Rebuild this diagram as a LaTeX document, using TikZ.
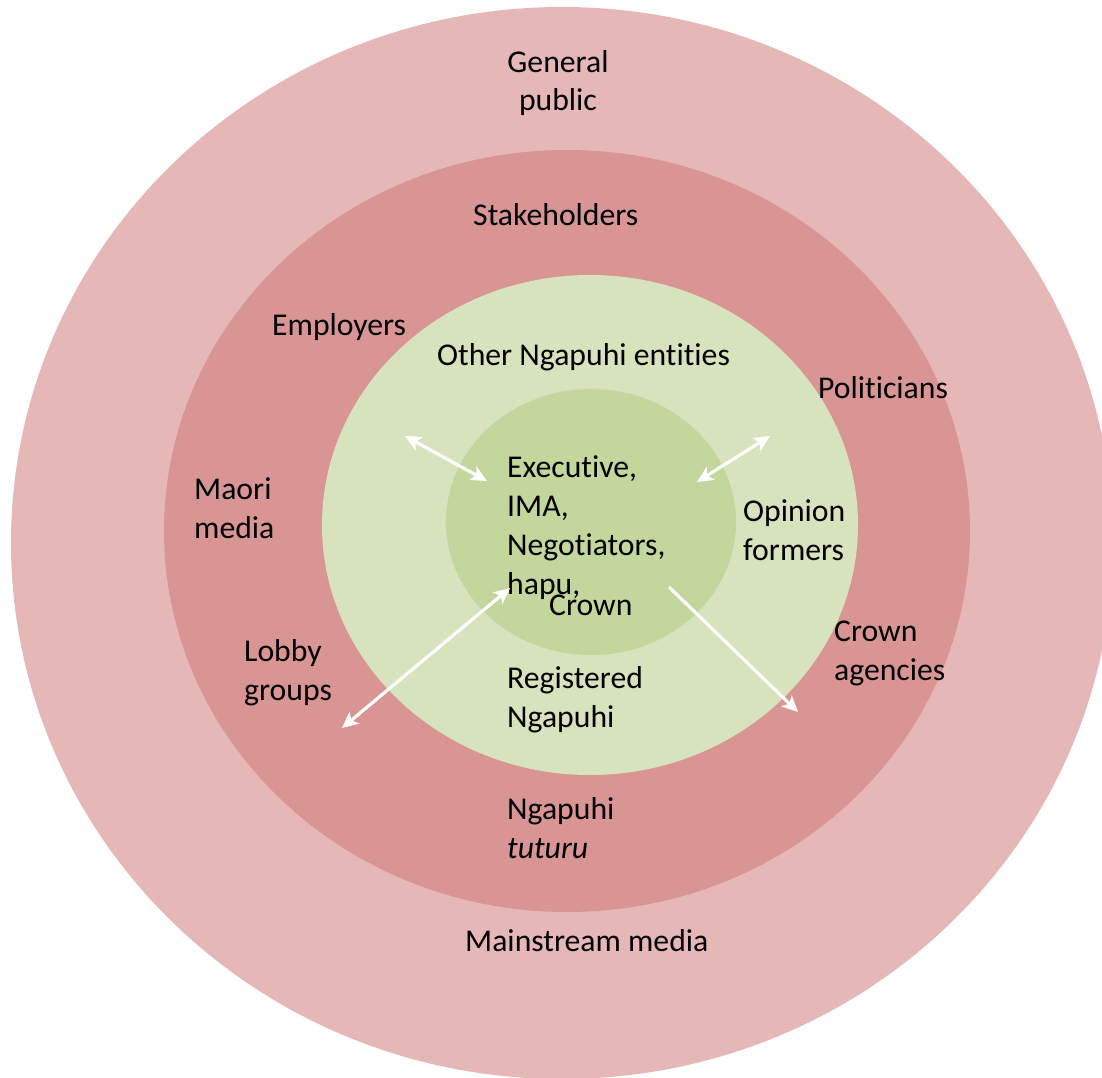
\documentclass[tikz,border=0pt]{standalone}
\usepackage{fontspec}
\setmainfont{Carlito}[Ligatures=NoCommon]
\usetikzlibrary{arrows.meta}
\definecolor{outerpink}{HTML}{E5B7B7}
\definecolor{midpink}{HTML}{D99594}
\definecolor{lightgreen}{HTML}{D7E3BC}
\definecolor{midgreen}{HTML}{C3D69B}
\tikzset{
  lbl/.style={anchor=base west, inner sep=0pt, align=left, font=\fontsize{31.7bp}{39bp}\selectfont},
  clbl/.style={anchor=base, inner sep=0pt, align=center, font=\fontsize{31.7bp}{38bp}\selectfont},
  tip/.tip={Stealth[length=16bp,width=15bp,inset=4bp]},
  conn/.style={draw=white, line width=3.2bp, tip-tip},
  conn1/.style={draw=white, line width=3.2bp, -tip}
}
\begin{document}
\begin{tikzpicture}[x=1bp,y=-1bp]
\useasboundingbox (0,0) rectangle (1102,1078);
\fill[white] (0,0) rectangle (1102,1078);
\begin{scope}
\clip (0,0) rectangle (1102,1078);
\fill[outerpink] (562,543) ellipse [x radius=551, y radius=536];
\end{scope}
\fill[midpink] (567,531) ellipse [x radius=403, y radius=381];
\fill[lightgreen] (590,525) ellipse [x radius=268, y radius=250];
\fill[midgreen] (591,522) ellipse [x radius=145, y radius=133];

% base anchor of a multi-line node = baseline of its last line
\node[clbl] (general) at (558,110) {General\\public};
\node[lbl] (stake) at (473,225) {Stakeholders};
\node[lbl] (employers) at (272,335) {Employers};
\node[lbl] (other) at (437,365) {Other Ngapuhi entities};
\node[lbl] (politicians) at (818,398) {Politicians};
\node[lbl] (maori) at (194,538) {Maori\\media};
\node[lbl] (exec) at (507,594) {Executive,\\IMA,\\Negotiators,\\hapu,};
\node[lbl] (crown) at (549,615) {Crown};
\node[lbl] (opinion) at (743,560) {Opinion\\formers};
\node[lbl] (lobby) at (244,700) {Lobby\\groups};
\node[lbl] (registered) at (507,727) {Registered\\Ngapuhi};
\node[lbl] (agencies) at (834,680) {Crown\\agencies};
\node[lbl] (tuturu) at (507,858) {Ngapuhi\\\textit{tuturu}};
\node[lbl] (mainstream) at (465,951) {Mainstream media};

\coordinate (a1s) at (405,436);
\coordinate (a1e) at (487,481);
\coordinate (a2s) at (770,436);
\coordinate (a2e) at (697,482);
\coordinate (a3s) at (510,588);
\coordinate (a3e) at (342,728);
\coordinate (a4s) at (669,587);
\coordinate (a4e) at (798,712);
\draw[conn] (a1s) -- (a1e);
\draw[conn] (a2s) -- (a2e);
\draw[conn] (a3s) -- (a3e);
\draw[conn1] (a4s) -- (a4e);
\end{tikzpicture}
\end{document}
